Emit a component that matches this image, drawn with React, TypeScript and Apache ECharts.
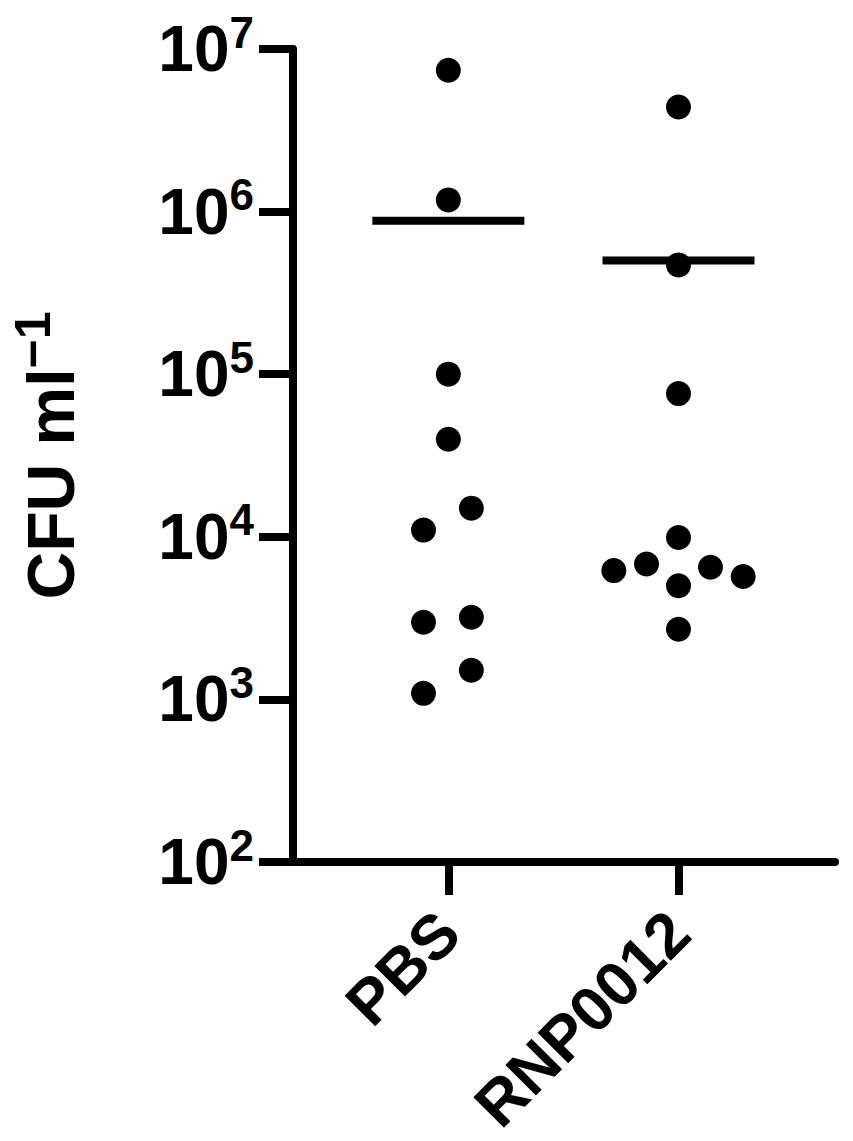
import React, { useEffect, useRef } from "react";
import * as echarts from "echarts";

const categories = ["PBS", "RNP0012"];
const pbsValues = [7.4e6, 1.18e6, 1.0e5, 3.98e4, 1.5e4, 1.1e4, 3.2e3, 2.98e3, 1.51e3, 1.09e3];
const pbsOffsets = [0, 0, 0, 0, 0.1, -0.108, 0.1, -0.108, 0.1, -0.108];
const rnpValues = [4.4e6, 4.7e5, 7.6e4, 9.9e3, 6.2e3, 6.8e3, 6.5e3, 5.7e3, 5.0e3, 2.7e3];
const rnpOffsets = [0, 0, 0, 0, -0.281, -0.139, 0.139, 0.281, 0, 0];
const meanValues = [8.8e5, 5.0e5];
const yTicks = [1e2, 1e3, 1e4, 1e5, 1e6, 1e7];

const FONT = "Liberation Sans";

export default function App() {
  const ref = useRef<HTMLDivElement>(null);
  useEffect(() => {
    if (!ref.current) return;
    const chart = echarts.init(ref.current, null, { renderer: "svg" });
    const groups = [
      { values: pbsValues, offsets: pbsOffsets },
      { values: rnpValues, offsets: rnpOffsets },
    ];
    const points: number[][] = [];
    groups.forEach((g, gi) => {
      g.values.forEach((v, i) => points.push([gi + 1 + g.offsets[i], v]));
    });
    chart.setOption({
      animation: false,
      grid: { left: 291, right: 18, top: 49, bottom: 279, containLabel: false },
      xAxis: {
        type: "value",
        min: 0.325,
        max: 2.68,
        splitLine: { show: false },
        axisLine: { show: true, lineStyle: { color: "#000", width: 8 } },
        axisTick: { show: true, length: 33, customValues: [1, 2], lineStyle: { color: "#000", width: 8 } },
        axisLabel: {
          customValues: [1, 2],
          rotate: 45,
          margin: 60,
          formatter: (v: number) => categories[Math.round(v) - 1] ?? "",
          color: "#000",
          fontFamily: FONT,
          fontWeight: "bold",
          fontSize: 63,
        },
      },
      yAxis: {
        type: "log",
        logBase: 10,
        min: yTicks[0],
        max: yTicks[yTicks.length - 1],
        splitLine: { show: false },
        axisLine: { show: true, lineStyle: { color: "#000", width: 8 } },
        axisTick: { show: true, length: 34, lineStyle: { color: "#000", width: 8 } },
        axisLabel: {
          margin: 39,
          formatter: (v: number) => `{b|10}{s|${Math.round(Math.log10(v))}}`,
          rich: {
            b: { fontSize: 64, lineHeight: 78, fontFamily: FONT, fontWeight: "bold", color: "#000" },
            s: { fontSize: 44, lineHeight: 44, verticalAlign: "top", fontFamily: FONT, fontWeight: "bold", color: "#000" },
          },
        },
        name: "{a|CFU ml}{s|\u22121}",
        nameLocation: "middle",
        nameRotate: 90,
        nameGap: 200,
        nameTextStyle: {
          rich: {
            a: { fontSize: 66, lineHeight: 85, fontFamily: FONT, fontWeight: "bold", color: "#000" },
            s: { fontSize: 50, lineHeight: 50, verticalAlign: "top", fontFamily: FONT, fontWeight: "bold", color: "#000" },
          },
        },
      },
      series: [
        {
          type: "scatter",
          data: points,
          symbol: "circle",
          symbolSize: 25,
          itemStyle: { color: "#000", opacity: 1 },
          emphasis: { disabled: true },
          z: 3,
        },
        {
          type: "scatter",
          data: meanValues.map((m, i) => [i + 1, m]),
          symbol: "rect",
          symbolSize: [152, 8],
          itemStyle: { color: "#000", opacity: 1 },
          emphasis: { disabled: true },
          z: 2,
        },
      ],
    });
    return () => chart.dispose();
  }, []);
  return (
    <div
      ref={ref}
      style={{ position: "absolute", left: 0, top: 0, width: 853, height: 1141, background: "#fff" }}
    />
  );
}
